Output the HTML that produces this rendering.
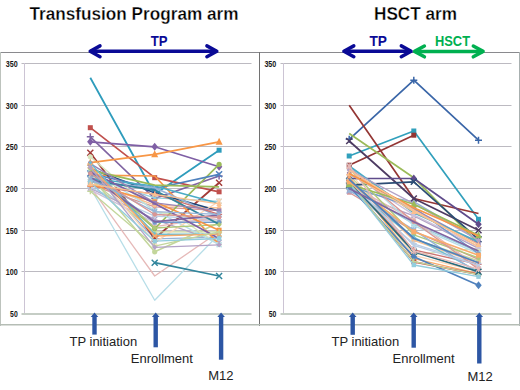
<!DOCTYPE html>
<html><head><meta charset="utf-8"><style>
html,body{margin:0;padding:0;background:#fff;width:520px;height:390px;overflow:hidden}
svg{display:block}
text{font-family:"Liberation Sans",sans-serif}
</style></head><body>
<svg width="520" height="390" viewBox="0 0 520 390" font-family="Liberation Sans, sans-serif">
<rect width="520" height="390" fill="#fff"/>
<line x1="0" y1="52.5" x2="520" y2="52.5" stroke="#8A8A8E" stroke-width="1"/>
<line x1="0.5" y1="52" x2="0.5" y2="326" stroke="#BDC3BD" stroke-width="1"/>
<line x1="519.5" y1="52" x2="519.5" y2="326" stroke="#A8B0B0" stroke-width="1"/>
<line x1="259.5" y1="52" x2="259.5" y2="326" stroke="#727272" stroke-width="1"/>
<line x1="0" y1="324.8" x2="520" y2="324.8" stroke="#B5BDB5" stroke-width="1.6"/>
<line x1="21.5" y1="271.5" x2="251.5" y2="271.5" stroke="#BCBAC1" stroke-width="1"/>
<line x1="21.5" y1="230.5" x2="251.5" y2="230.5" stroke="#BCBAC1" stroke-width="1"/>
<line x1="21.5" y1="188.5" x2="251.5" y2="188.5" stroke="#BCBAC1" stroke-width="1"/>
<line x1="21.5" y1="146.5" x2="251.5" y2="146.5" stroke="#BCBAC1" stroke-width="1"/>
<line x1="21.5" y1="105.5" x2="251.5" y2="105.5" stroke="#BCBAC1" stroke-width="1"/>
<line x1="21.5" y1="63.5" x2="251.5" y2="63.5" stroke="#BCBAC1" stroke-width="1"/>
<line x1="24.5" y1="63" x2="24.5" y2="313.5" stroke="#CCC4D4" stroke-width="1"/>
<line x1="21.5" y1="314" x2="251.5" y2="314" stroke="#C5CDC5" stroke-width="2"/>
<text x="17.7" y="316.9" font-size="9.6" font-weight="bold" fill="#151515" text-anchor="end" textLength="7.6" lengthAdjust="spacingAndGlyphs">50</text>
<text x="17.7" y="274.9" font-size="9.6" font-weight="bold" fill="#151515" text-anchor="end" textLength="11.9" lengthAdjust="spacingAndGlyphs">100</text>
<text x="17.7" y="233.9" font-size="9.6" font-weight="bold" fill="#151515" text-anchor="end" textLength="11.9" lengthAdjust="spacingAndGlyphs">150</text>
<text x="17.7" y="191.9" font-size="9.6" font-weight="bold" fill="#151515" text-anchor="end" textLength="11.9" lengthAdjust="spacingAndGlyphs">200</text>
<text x="17.7" y="149.9" font-size="9.6" font-weight="bold" fill="#151515" text-anchor="end" textLength="11.9" lengthAdjust="spacingAndGlyphs">250</text>
<text x="17.7" y="108.9" font-size="9.6" font-weight="bold" fill="#151515" text-anchor="end" textLength="11.9" lengthAdjust="spacingAndGlyphs">300</text>
<text x="17.7" y="66.9" font-size="9.6" font-weight="bold" fill="#151515" text-anchor="end" textLength="11.9" lengthAdjust="spacingAndGlyphs">350</text>
<line x1="280.5" y1="271.5" x2="511.5" y2="271.5" stroke="#BCBAC1" stroke-width="1"/>
<line x1="280.5" y1="230.5" x2="511.5" y2="230.5" stroke="#BCBAC1" stroke-width="1"/>
<line x1="280.5" y1="188.5" x2="511.5" y2="188.5" stroke="#BCBAC1" stroke-width="1"/>
<line x1="280.5" y1="146.5" x2="511.5" y2="146.5" stroke="#BCBAC1" stroke-width="1"/>
<line x1="280.5" y1="105.5" x2="511.5" y2="105.5" stroke="#BCBAC1" stroke-width="1"/>
<line x1="280.5" y1="63.5" x2="511.5" y2="63.5" stroke="#BCBAC1" stroke-width="1"/>
<line x1="283.5" y1="63" x2="283.5" y2="313.5" stroke="#CCC4D4" stroke-width="1"/>
<line x1="280.5" y1="314" x2="511.5" y2="314" stroke="#C5CDC5" stroke-width="2"/>
<text x="276.3" y="316.9" font-size="9.6" font-weight="bold" fill="#151515" text-anchor="end" textLength="7.6" lengthAdjust="spacingAndGlyphs">50</text>
<text x="276.3" y="274.9" font-size="9.6" font-weight="bold" fill="#151515" text-anchor="end" textLength="11.9" lengthAdjust="spacingAndGlyphs">100</text>
<text x="276.3" y="233.9" font-size="9.6" font-weight="bold" fill="#151515" text-anchor="end" textLength="11.9" lengthAdjust="spacingAndGlyphs">150</text>
<text x="276.3" y="191.9" font-size="9.6" font-weight="bold" fill="#151515" text-anchor="end" textLength="11.9" lengthAdjust="spacingAndGlyphs">200</text>
<text x="276.3" y="149.9" font-size="9.6" font-weight="bold" fill="#151515" text-anchor="end" textLength="11.9" lengthAdjust="spacingAndGlyphs">250</text>
<text x="276.3" y="108.9" font-size="9.6" font-weight="bold" fill="#151515" text-anchor="end" textLength="11.9" lengthAdjust="spacingAndGlyphs">300</text>
<text x="276.3" y="66.9" font-size="9.6" font-weight="bold" fill="#151515" text-anchor="end" textLength="11.9" lengthAdjust="spacingAndGlyphs">350</text>
<g><polyline points="90.3,77.7 154.7,194.3 219.1,150.2" fill="none" stroke="#2E9CBC" stroke-width="1.8" stroke-linejoin="round"/>
<rect x="216.6" y="147.7" width="5" height="5" fill="#2E9CBC"/>
<polyline points="90.3,187.7 154.7,300.2 219.1,234.3" fill="none" stroke="#B7DEE8" stroke-width="1.3" stroke-linejoin="round"/>
<polyline points="90.3,127.7 154.7,177.7 219.1,191.8" fill="none" stroke="#C0504D" stroke-width="1.7" stroke-linejoin="round"/>
<rect x="87.8" y="125.2" width="5" height="5" fill="#C0504D"/>
<rect x="152.2" y="175.2" width="5" height="5" fill="#C0504D"/>
<rect x="216.6" y="189.3" width="5" height="5" fill="#C0504D"/>
<polyline points="90.3,186.8 154.7,276.0 219.1,231.8" fill="none" stroke="#E6B9B8" stroke-width="1.3" stroke-linejoin="round"/>
<polyline points="90.3,136.8 154.7,198.5 219.1,176.0" fill="none" stroke="#8064A2" stroke-width="1.7" stroke-linejoin="round"/>
<path d="M86.8,136.8L93.8,136.8M90.3,133.3L90.3,140.3" stroke="#8064A2" stroke-width="1.5"/>
<path d="M151.2,198.5L158.2,198.5M154.7,195.0L154.7,202.0" stroke="#8064A2" stroke-width="1.5"/>
<path d="M215.6,176.0L222.6,176.0M219.1,172.5L219.1,179.5" stroke="#8064A2" stroke-width="1.5"/>
<polyline points="90.3,170.6 154.7,238.8 219.1,237.2" fill="none" stroke="#95B3D7" stroke-width="1.35" stroke-linejoin="round"/>
<path d="M90.3,167.8L92.9,170.6L90.3,173.4L87.7,170.6Z" fill="#95B3D7"/>
<path d="M154.7,236.0L157.3,238.8L154.7,241.6L152.1,238.8Z" fill="#95B3D7"/>
<path d="M219.1,234.4L221.7,237.2L219.1,240.0L216.5,237.2Z" fill="#95B3D7"/>
<polyline points="90.3,141.8 154.7,146.8 219.1,166.8" fill="none" stroke="#7F5FA5" stroke-width="1.7" stroke-linejoin="round"/>
<path d="M90.3,137.8L93.5,141.8L90.3,145.8L87.1,141.8Z" fill="#7F5FA5"/>
<path d="M154.7,142.8L157.9,146.8L154.7,150.8L151.5,146.8Z" fill="#7F5FA5"/>
<path d="M219.1,162.8L222.3,166.8L219.1,170.8L215.9,166.8Z" fill="#7F5FA5"/>
<polyline points="90.3,184.8 154.7,206.8 219.1,210.6" fill="none" stroke="#D99694" stroke-width="1.35" stroke-linejoin="round"/>
<rect x="88.1" y="182.6" width="4.4" height="4.4" fill="#D99694"/>
<rect x="152.5" y="204.6" width="4.4" height="4.4" fill="#D99694"/>
<rect x="216.9" y="208.4" width="4.4" height="4.4" fill="#D99694"/>
<polyline points="90.3,152.7 154.7,238.5 219.1,182.7" fill="none" stroke="#A33B38" stroke-width="1.8" stroke-linejoin="round"/>
<path d="M87.3,149.7L93.3,155.7M93.3,149.7L87.3,155.7" stroke="#A33B38" stroke-width="1.5"/>
<path d="M151.7,235.5L157.7,241.5M157.7,235.5L151.7,241.5" stroke="#A33B38" stroke-width="1.5"/>
<path d="M216.1,179.7L222.1,185.7M222.1,179.7L216.1,185.7" stroke="#A33B38" stroke-width="1.5"/>
<polyline points="90.3,179.6 154.7,231.9 219.1,231.9" fill="none" stroke="#C3D69B" stroke-width="1.35" stroke-linejoin="round"/>
<path d="M90.3,176.6L93.1,181.8L87.5,181.8Z" fill="#C3D69B"/>
<path d="M154.7,228.9L157.5,234.1L151.9,234.1Z" fill="#C3D69B"/>
<path d="M219.1,228.9L221.9,234.1L216.3,234.1Z" fill="#C3D69B"/>
<polyline points="90.3,156.8 154.7,211.8 219.1,221.8" fill="none" stroke="#D7E4BD" stroke-width="1.5" stroke-linejoin="round"/>
<circle cx="90.3" cy="156.8" r="2.6" fill="#D7E4BD"/>
<circle cx="154.7" cy="211.8" r="2.6" fill="#D7E4BD"/>
<circle cx="219.1" cy="221.8" r="2.6" fill="#D7E4BD"/>
<polyline points="90.3,188.2 154.7,219.3 219.1,242.3" fill="none" stroke="#B3A2C7" stroke-width="1.35" stroke-linejoin="round"/>
<path d="M87.8,185.7L92.8,190.7M92.8,185.7L87.8,190.7" stroke="#B3A2C7" stroke-width="1.3"/>
<path d="M152.2,216.8L157.2,221.8M157.2,216.8L152.2,221.8" stroke="#B3A2C7" stroke-width="1.3"/>
<path d="M216.6,239.8L221.6,244.8M221.6,239.8L216.6,244.8" stroke="#B3A2C7" stroke-width="1.3"/>
<polyline points="90.3,162.7 154.7,154.3 219.1,141.8" fill="none" stroke="#F79646" stroke-width="1.7" stroke-linejoin="round"/>
<path d="M90.3,158.7L93.8,165.7L86.8,165.7Z" fill="#F79646"/>
<path d="M154.7,150.3L158.2,157.3L151.2,157.3Z" fill="#F79646"/>
<path d="M219.1,137.8L222.6,144.8L215.6,144.8Z" fill="#F79646"/>
<polyline points="90.3,177.7 154.7,197.9 219.1,201.3" fill="none" stroke="#93CDDD" stroke-width="1.35" stroke-linejoin="round"/>
<path d="M87.8,175.2L92.8,180.2M92.8,175.2L87.8,180.2" stroke="#93CDDD" stroke-width="1.3"/>
<path d="M90.3,174.7L90.3,180.7" stroke="#93CDDD" stroke-width="1.2"/>
<path d="M152.2,195.4L157.2,200.4M157.2,195.4L152.2,200.4" stroke="#93CDDD" stroke-width="1.3"/>
<path d="M154.7,194.9L154.7,200.9" stroke="#93CDDD" stroke-width="1.2"/>
<path d="M216.6,198.8L221.6,203.8M221.6,198.8L216.6,203.8" stroke="#93CDDD" stroke-width="1.3"/>
<path d="M219.1,198.3L219.1,204.3" stroke="#93CDDD" stroke-width="1.2"/>
<polyline points="90.3,175.2 154.7,176.0 219.1,244.3" fill="none" stroke="#F79646" stroke-width="1.7" stroke-linejoin="round"/>
<polyline points="90.3,181.0 154.7,205.2 219.1,208.0" fill="none" stroke="#FAC090" stroke-width="1.35" stroke-linejoin="round"/>
<circle cx="90.3" cy="181.0" r="2.3" fill="#FAC090"/>
<circle cx="154.7" cy="205.2" r="2.3" fill="#FAC090"/>
<circle cx="219.1" cy="208.0" r="2.3" fill="#FAC090"/>
<polyline points="90.3,168.5 154.7,192.7 219.1,211.0" fill="none" stroke="#1F497D" stroke-width="1.7" stroke-linejoin="round"/>
<polyline points="90.3,187.5 154.7,216.1 219.1,219.6" fill="none" stroke="#B9CDE5" stroke-width="1.35" stroke-linejoin="round"/>
<path d="M87.3,187.5L93.3,187.5M90.3,184.5L90.3,190.5" stroke="#B9CDE5" stroke-width="1.3"/>
<path d="M151.7,216.1L157.7,216.1M154.7,213.1L154.7,219.1" stroke="#B9CDE5" stroke-width="1.3"/>
<path d="M216.1,219.6L222.1,219.6M219.1,216.6L219.1,222.6" stroke="#B9CDE5" stroke-width="1.3"/>
<polyline points="154.7,262.7 219.1,276.0" fill="none" stroke="#31859C" stroke-width="1.7" stroke-linejoin="round"/>
<path d="M151.7,259.7L157.7,265.7M157.7,259.7L151.7,265.7" stroke="#31859C" stroke-width="1.5"/>
<path d="M216.1,273.0L222.1,279.0M222.1,273.0L216.1,279.0" stroke="#31859C" stroke-width="1.5"/>
<polyline points="90.3,174.6 154.7,226.7 219.1,217.2" fill="none" stroke="#E6B9B8" stroke-width="1.35" stroke-linejoin="round"/>
<path d="M90.3,171.8L92.9,174.6L90.3,177.4L87.7,174.6Z" fill="#E6B9B8"/>
<path d="M154.7,223.9L157.3,226.7L154.7,229.5L152.1,226.7Z" fill="#E6B9B8"/>
<path d="M219.1,214.4L221.7,217.2L219.1,220.0L216.5,217.2Z" fill="#E6B9B8"/>
<polyline points="90.3,176.0 154.7,251.8 219.1,222.7" fill="none" stroke="#C3D69B" stroke-width="1.5" stroke-linejoin="round"/>
<circle cx="90.3" cy="176.0" r="2.6" fill="#C3D69B"/>
<circle cx="154.7" cy="251.8" r="2.6" fill="#C3D69B"/>
<circle cx="219.1" cy="222.7" r="2.6" fill="#C3D69B"/>
<polyline points="90.3,176.7 154.7,201.2 219.1,244.8" fill="none" stroke="#D7E4BD" stroke-width="1.35" stroke-linejoin="round"/>
<rect x="88.1" y="174.5" width="4.4" height="4.4" fill="#D7E4BD"/>
<rect x="152.5" y="199.0" width="4.4" height="4.4" fill="#D7E4BD"/>
<rect x="216.9" y="242.6" width="4.4" height="4.4" fill="#D7E4BD"/>
<polyline points="90.3,171.8 154.7,228.5 219.1,164.3" fill="none" stroke="#9BBB59" stroke-width="1.7" stroke-linejoin="round"/>
<circle cx="90.3" cy="171.8" r="2.6" fill="#9BBB59"/>
<circle cx="154.7" cy="228.5" r="2.6" fill="#9BBB59"/>
<circle cx="219.1" cy="164.3" r="2.6" fill="#9BBB59"/>
<polyline points="90.3,189.9 154.7,222.7 219.1,219.6" fill="none" stroke="#CCC1DA" stroke-width="1.35" stroke-linejoin="round"/>
<path d="M90.3,186.9L93.1,192.1L87.5,192.1Z" fill="#CCC1DA"/>
<path d="M154.7,219.7L157.5,224.9L151.9,224.9Z" fill="#CCC1DA"/>
<path d="M219.1,216.6L221.9,221.8L216.3,221.8Z" fill="#CCC1DA"/>
<polyline points="90.3,173.5 154.7,188.5 219.1,174.3" fill="none" stroke="#4F81BD" stroke-width="1.7" stroke-linejoin="round"/>
<path d="M87.3,170.5L93.3,176.5M93.3,170.5L87.3,176.5" stroke="#4F81BD" stroke-width="1.5"/>
<path d="M151.7,185.5L157.7,191.5M157.7,185.5L151.7,191.5" stroke="#4F81BD" stroke-width="1.5"/>
<path d="M216.1,171.3L222.1,177.3M222.1,171.3L216.1,177.3" stroke="#4F81BD" stroke-width="1.5"/>
<polyline points="90.3,169.4 154.7,210.3 219.1,244.7" fill="none" stroke="#B7DEE8" stroke-width="1.35" stroke-linejoin="round"/>
<path d="M87.8,166.9L92.8,171.9M92.8,166.9L87.8,171.9" stroke="#B7DEE8" stroke-width="1.3"/>
<path d="M152.2,207.8L157.2,212.8M157.2,207.8L152.2,212.8" stroke="#B7DEE8" stroke-width="1.3"/>
<path d="M216.6,242.2L221.6,247.2M221.6,242.2L216.6,247.2" stroke="#B7DEE8" stroke-width="1.3"/>
<polyline points="90.3,178.5 154.7,186.0 219.1,203.5" fill="none" stroke="#4BACC6" stroke-width="1.7" stroke-linejoin="round"/>
<polyline points="90.3,166.6 154.7,242.4 219.1,201.3" fill="none" stroke="#FCD5B5" stroke-width="1.35" stroke-linejoin="round"/>
<path d="M87.8,164.1L92.8,169.1M92.8,164.1L87.8,169.1" stroke="#FCD5B5" stroke-width="1.3"/>
<path d="M90.3,163.6L90.3,169.6" stroke="#FCD5B5" stroke-width="1.2"/>
<path d="M152.2,239.9L157.2,244.9M157.2,239.9L152.2,244.9" stroke="#FCD5B5" stroke-width="1.3"/>
<path d="M154.7,239.4L154.7,245.4" stroke="#FCD5B5" stroke-width="1.2"/>
<path d="M216.6,198.8L221.6,203.8M221.6,198.8L216.6,203.8" stroke="#FCD5B5" stroke-width="1.3"/>
<path d="M219.1,198.3L219.1,204.3" stroke="#FCD5B5" stroke-width="1.2"/>
<polyline points="90.3,170.2 154.7,185.2 219.1,186.8" fill="none" stroke="#9BBB59" stroke-width="1.7" stroke-linejoin="round"/>
<polyline points="90.3,173.0 154.7,222.4 219.1,222.2" fill="none" stroke="#729ACA" stroke-width="1.35" stroke-linejoin="round"/>
<circle cx="90.3" cy="173.0" r="2.3" fill="#729ACA"/>
<circle cx="154.7" cy="222.4" r="2.3" fill="#729ACA"/>
<circle cx="219.1" cy="222.2" r="2.3" fill="#729ACA"/>
<polyline points="90.3,181.8 154.7,187.7 219.1,216.8" fill="none" stroke="#95B3D7" stroke-width="1.8" stroke-linejoin="round"/>
<polyline points="90.3,186.2 154.7,193.9 219.1,214.3" fill="none" stroke="#CD7371" stroke-width="1.35" stroke-linejoin="round"/>
<path d="M87.3,186.2L93.3,186.2M90.3,183.2L90.3,189.2" stroke="#CD7371" stroke-width="1.3"/>
<path d="M151.7,193.9L157.7,193.9M154.7,190.9L154.7,196.9" stroke="#CD7371" stroke-width="1.3"/>
<path d="M216.1,214.3L222.1,214.3M219.1,211.3L219.1,217.3" stroke="#CD7371" stroke-width="1.3"/>
<polyline points="90.3,180.2 154.7,190.2 219.1,224.3" fill="none" stroke="#31859C" stroke-width="1.8" stroke-linejoin="round"/>
<polyline points="90.3,168.5 154.7,228.0 219.1,224.7" fill="none" stroke="#AFC97A" stroke-width="1.35" stroke-linejoin="round"/>
<path d="M90.3,165.7L92.9,168.5L90.3,171.3L87.7,168.5Z" fill="#AFC97A"/>
<path d="M154.7,225.2L157.3,228.0L154.7,230.8L152.1,228.0Z" fill="#AFC97A"/>
<path d="M219.1,221.9L221.7,224.7L219.1,227.5L216.5,224.7Z" fill="#AFC97A"/>
<polyline points="90.3,184.3 154.7,201.8 219.1,230.2" fill="none" stroke="#F79646" stroke-width="1.7" stroke-linejoin="round"/>
<rect x="87.8" y="181.8" width="5" height="5" fill="#F79646"/>
<rect x="152.2" y="199.3" width="5" height="5" fill="#F79646"/>
<rect x="216.6" y="227.7" width="5" height="5" fill="#F79646"/>
<polyline points="90.3,163.7 154.7,202.9 219.1,210.6" fill="none" stroke="#9983B5" stroke-width="1.35" stroke-linejoin="round"/>
<rect x="88.1" y="161.5" width="4.4" height="4.4" fill="#9983B5"/>
<rect x="152.5" y="200.7" width="4.4" height="4.4" fill="#9983B5"/>
<rect x="216.9" y="208.4" width="4.4" height="4.4" fill="#9983B5"/>
<polyline points="90.3,171.8 154.7,203.5 219.1,238.5" fill="none" stroke="#7F5FA5" stroke-width="1.7" stroke-linejoin="round"/>
<polyline points="90.3,163.0 154.7,234.2 219.1,234.2" fill="none" stroke="#6FBDD1" stroke-width="1.35" stroke-linejoin="round"/>
<path d="M90.3,160.0L93.1,165.2L87.5,165.2Z" fill="#6FBDD1"/>
<path d="M154.7,231.2L157.5,236.4L151.9,236.4Z" fill="#6FBDD1"/>
<path d="M219.1,231.2L221.9,236.4L216.3,236.4Z" fill="#6FBDD1"/>
<polyline points="90.3,176.8 154.7,221.8 219.1,215.2" fill="none" stroke="#8064A2" stroke-width="1.7" stroke-linejoin="round"/>
<polyline points="90.3,165.6 154.7,236.0 219.1,234.2" fill="none" stroke="#F9AB6B" stroke-width="1.35" stroke-linejoin="round"/>
<path d="M87.8,163.1L92.8,168.1M92.8,163.1L87.8,168.1" stroke="#F9AB6B" stroke-width="1.3"/>
<path d="M152.2,233.5L157.2,238.5M157.2,233.5L152.2,238.5" stroke="#F9AB6B" stroke-width="1.3"/>
<path d="M216.6,231.7L221.6,236.7M221.6,231.7L216.6,236.7" stroke="#F9AB6B" stroke-width="1.3"/>
<polyline points="90.3,179.2 154.7,211.7 219.1,214.3" fill="none" stroke="#95B3D7" stroke-width="1.35" stroke-linejoin="round"/>
<path d="M87.8,176.7L92.8,181.7M92.8,176.7L87.8,181.7" stroke="#95B3D7" stroke-width="1.3"/>
<path d="M90.3,176.2L90.3,182.2" stroke="#95B3D7" stroke-width="1.2"/>
<path d="M152.2,209.2L157.2,214.2M157.2,209.2L152.2,214.2" stroke="#95B3D7" stroke-width="1.3"/>
<path d="M154.7,208.7L154.7,214.7" stroke="#95B3D7" stroke-width="1.2"/>
<path d="M216.6,211.8L221.6,216.8M221.6,211.8L216.6,216.8" stroke="#95B3D7" stroke-width="1.3"/>
<path d="M219.1,211.3L219.1,217.3" stroke="#95B3D7" stroke-width="1.2"/>
<polyline points="90.3,173.5 154.7,214.5 219.1,217.2" fill="none" stroke="#D99694" stroke-width="1.35" stroke-linejoin="round"/>
<circle cx="90.3" cy="173.5" r="2.3" fill="#D99694"/>
<circle cx="154.7" cy="214.5" r="2.3" fill="#D99694"/>
<circle cx="219.1" cy="217.2" r="2.3" fill="#D99694"/>
<polyline points="90.3,191.3 154.7,246.1 219.1,231.9" fill="none" stroke="#C3D69B" stroke-width="1.35" stroke-linejoin="round"/>
<path d="M87.3,191.3L93.3,191.3M90.3,188.3L90.3,194.3" stroke="#C3D69B" stroke-width="1.3"/>
<path d="M151.7,246.1L157.7,246.1M154.7,243.1L154.7,249.1" stroke="#C3D69B" stroke-width="1.3"/>
<path d="M216.1,231.9L222.1,231.9M219.1,228.9L219.1,234.9" stroke="#C3D69B" stroke-width="1.3"/>
<polyline points="90.3,167.3 154.7,247.3 219.1,244.8" fill="none" stroke="#B3A2C7" stroke-width="1.35" stroke-linejoin="round"/>
<path d="M90.3,164.5L92.9,167.3L90.3,170.1L87.7,167.3Z" fill="#B3A2C7"/>
<path d="M154.7,244.5L157.3,247.3L154.7,250.1L152.1,247.3Z" fill="#B3A2C7"/>
<path d="M219.1,242.0L221.7,244.8L219.1,247.6L216.5,244.8Z" fill="#B3A2C7"/>
<polyline points="90.3,182.4 154.7,241.2 219.1,238.5" fill="none" stroke="#93CDDD" stroke-width="1.35" stroke-linejoin="round"/>
<rect x="88.1" y="180.2" width="4.4" height="4.4" fill="#93CDDD"/>
<rect x="152.5" y="239.0" width="4.4" height="4.4" fill="#93CDDD"/>
<rect x="216.9" y="236.3" width="4.4" height="4.4" fill="#93CDDD"/>
<polyline points="90.3,184.1 154.7,194.4 219.1,203.9" fill="none" stroke="#FAC090" stroke-width="1.35" stroke-linejoin="round"/>
<path d="M90.3,181.1L93.1,186.3L87.5,186.3Z" fill="#FAC090"/>
<path d="M154.7,191.4L157.5,196.6L151.9,196.6Z" fill="#FAC090"/>
<path d="M219.1,200.9L221.9,206.1L216.3,206.1Z" fill="#FAC090"/></g>
<g><polyline points="349.2,139.3 413.8,80.2 478.5,140.2" fill="none" stroke="#3A66A8" stroke-width="1.7" stroke-linejoin="round"/>
<path d="M345.7,139.3L352.7,139.3M349.2,135.8L349.2,142.8" stroke="#3A66A8" stroke-width="1.5"/>
<path d="M410.3,80.2L417.3,80.2M413.8,76.7L413.8,83.7" stroke="#3A66A8" stroke-width="1.5"/>
<path d="M475.0,140.2L482.0,140.2M478.5,136.7L478.5,143.7" stroke="#3A66A8" stroke-width="1.5"/>
<polyline points="349.2,190.1 413.8,201.7 478.5,239.8" fill="none" stroke="#95B3D7" stroke-width="1.35" stroke-linejoin="round"/>
<path d="M349.2,187.3L351.8,190.1L349.2,192.9L346.6,190.1Z" fill="#95B3D7"/>
<path d="M413.8,198.9L416.4,201.7L413.8,204.5L411.2,201.7Z" fill="#95B3D7"/>
<path d="M478.5,237.0L481.1,239.8L478.5,242.6L475.9,239.8Z" fill="#95B3D7"/>
<polyline points="349.2,192.5 413.8,231.1 478.5,259.4" fill="none" stroke="#D99694" stroke-width="1.35" stroke-linejoin="round"/>
<rect x="347.0" y="190.3" width="4.4" height="4.4" fill="#D99694"/>
<rect x="411.6" y="228.9" width="4.4" height="4.4" fill="#D99694"/>
<rect x="476.3" y="257.2" width="4.4" height="4.4" fill="#D99694"/>
<polyline points="349.2,156.0 413.8,131.0 478.5,219.3" fill="none" stroke="#31A0BC" stroke-width="1.7" stroke-linejoin="round"/>
<rect x="346.7" y="153.5" width="5" height="5" fill="#31A0BC"/>
<rect x="411.3" y="128.5" width="5" height="5" fill="#31A0BC"/>
<rect x="476.0" y="216.8" width="5" height="5" fill="#31A0BC"/>
<polyline points="349.2,175.5 413.8,239.0 478.5,260.8" fill="none" stroke="#C3D69B" stroke-width="1.35" stroke-linejoin="round"/>
<path d="M349.2,172.5L352.0,177.7L346.4,177.7Z" fill="#C3D69B"/>
<path d="M413.8,236.0L416.6,241.2L411.0,241.2Z" fill="#C3D69B"/>
<path d="M478.5,257.8L481.3,263.0L475.7,263.0Z" fill="#C3D69B"/>
<polyline points="349.2,191.4 413.8,215.8 478.5,248.4" fill="none" stroke="#B3A2C7" stroke-width="1.35" stroke-linejoin="round"/>
<path d="M346.7,188.9L351.7,193.9M351.7,188.9L346.7,193.9" stroke="#B3A2C7" stroke-width="1.3"/>
<path d="M411.3,213.3L416.3,218.3M416.3,213.3L411.3,218.3" stroke="#B3A2C7" stroke-width="1.3"/>
<path d="M476.0,245.9L481.0,250.9M481.0,245.9L476.0,250.9" stroke="#B3A2C7" stroke-width="1.3"/>
<polyline points="349.2,165.2 413.8,135.2" fill="none" stroke="#943634" stroke-width="1.7" stroke-linejoin="round"/>
<rect x="346.7" y="162.7" width="5" height="5" fill="#943634"/>
<rect x="411.3" y="132.7" width="5" height="5" fill="#943634"/>
<polyline points="349.2,186.4 413.8,223.9 478.5,252.0" fill="none" stroke="#93CDDD" stroke-width="1.35" stroke-linejoin="round"/>
<path d="M346.7,183.9L351.7,188.9M351.7,183.9L346.7,188.9" stroke="#93CDDD" stroke-width="1.3"/>
<path d="M349.2,183.4L349.2,189.4" stroke="#93CDDD" stroke-width="1.2"/>
<path d="M411.3,221.4L416.3,226.4M416.3,221.4L411.3,226.4" stroke="#93CDDD" stroke-width="1.3"/>
<path d="M413.8,220.9L413.8,226.9" stroke="#93CDDD" stroke-width="1.2"/>
<path d="M476.0,249.5L481.0,254.5M481.0,249.5L476.0,254.5" stroke="#93CDDD" stroke-width="1.3"/>
<path d="M478.5,249.0L478.5,255.0" stroke="#93CDDD" stroke-width="1.2"/>
<polyline points="349.2,179.2 413.8,240.4 478.5,263.1" fill="none" stroke="#FAC090" stroke-width="1.35" stroke-linejoin="round"/>
<circle cx="349.2" cy="179.2" r="2.3" fill="#FAC090"/>
<circle cx="413.8" cy="240.4" r="2.3" fill="#FAC090"/>
<circle cx="478.5" cy="263.1" r="2.3" fill="#FAC090"/>
<polyline points="349.2,105.2 413.8,198.5 478.5,213.5" fill="none" stroke="#943634" stroke-width="1.7" stroke-linejoin="round"/>
<polyline points="349.2,188.5 413.8,243.8 478.5,264.4" fill="none" stroke="#B9CDE5" stroke-width="1.35" stroke-linejoin="round"/>
<path d="M346.2,188.5L352.2,188.5M349.2,185.5L349.2,191.5" stroke="#B9CDE5" stroke-width="1.3"/>
<path d="M410.8,243.8L416.8,243.8M413.8,240.8L413.8,246.8" stroke="#B9CDE5" stroke-width="1.3"/>
<path d="M475.5,264.4L481.5,264.4M478.5,261.4L478.5,267.4" stroke="#B9CDE5" stroke-width="1.3"/>
<polyline points="349.2,184.6 413.8,219.8 478.5,267.4" fill="none" stroke="#E6B9B8" stroke-width="1.35" stroke-linejoin="round"/>
<path d="M349.2,181.8L351.8,184.6L349.2,187.4L346.6,184.6Z" fill="#E6B9B8"/>
<path d="M413.8,217.0L416.4,219.8L413.8,222.6L411.2,219.8Z" fill="#E6B9B8"/>
<path d="M478.5,264.6L481.1,267.4L478.5,270.2L475.9,267.4Z" fill="#E6B9B8"/>
<polyline points="349.2,133.5 413.8,177.7 478.5,243.5" fill="none" stroke="#9BBB59" stroke-width="1.7" stroke-linejoin="round"/>
<polyline points="349.2,177.5 413.8,254.5 478.5,248.4" fill="none" stroke="#D7E4BD" stroke-width="1.35" stroke-linejoin="round"/>
<rect x="347.0" y="175.3" width="4.4" height="4.4" fill="#D7E4BD"/>
<rect x="411.6" y="252.3" width="4.4" height="4.4" fill="#D7E4BD"/>
<rect x="476.3" y="246.2" width="4.4" height="4.4" fill="#D7E4BD"/>
<polyline points="349.2,172.7 413.8,214.9 478.5,246.7" fill="none" stroke="#CCC1DA" stroke-width="1.35" stroke-linejoin="round"/>
<path d="M349.2,169.7L352.0,174.9L346.4,174.9Z" fill="#CCC1DA"/>
<path d="M413.8,211.9L416.6,217.1L411.0,217.1Z" fill="#CCC1DA"/>
<path d="M478.5,243.7L481.3,248.9L475.7,248.9Z" fill="#CCC1DA"/>
<polyline points="349.2,141.0 413.8,198.5 478.5,230.2" fill="none" stroke="#4D3B62" stroke-width="1.7" stroke-linejoin="round"/>
<path d="M346.2,138.0L352.2,144.0M352.2,138.0L346.2,144.0" stroke="#4D3B62" stroke-width="1.5"/>
<path d="M410.8,195.5L416.8,201.5M416.8,195.5L410.8,201.5" stroke="#4D3B62" stroke-width="1.5"/>
<path d="M475.5,227.2L481.5,233.2M481.5,227.2L475.5,233.2" stroke="#4D3B62" stroke-width="1.5"/>
<polyline points="349.2,165.9 413.8,225.7 478.5,253.7" fill="none" stroke="#B7DEE8" stroke-width="1.35" stroke-linejoin="round"/>
<path d="M346.7,163.4L351.7,168.4M351.7,163.4L346.7,168.4" stroke="#B7DEE8" stroke-width="1.3"/>
<path d="M411.3,223.2L416.3,228.2M416.3,223.2L411.3,228.2" stroke="#B7DEE8" stroke-width="1.3"/>
<path d="M476.0,251.2L481.0,256.2M481.0,251.2L476.0,256.2" stroke="#B7DEE8" stroke-width="1.3"/>
<polyline points="349.2,170.9 413.8,255.3 478.5,271.6" fill="none" stroke="#FCD5B5" stroke-width="1.35" stroke-linejoin="round"/>
<path d="M346.7,168.4L351.7,173.4M351.7,168.4L346.7,173.4" stroke="#FCD5B5" stroke-width="1.3"/>
<path d="M349.2,167.9L349.2,173.9" stroke="#FCD5B5" stroke-width="1.2"/>
<path d="M411.3,252.8L416.3,257.8M416.3,252.8L411.3,257.8" stroke="#FCD5B5" stroke-width="1.3"/>
<path d="M413.8,252.3L413.8,258.3" stroke="#FCD5B5" stroke-width="1.2"/>
<path d="M476.0,269.1L481.0,274.1M481.0,269.1L476.0,274.1" stroke="#FCD5B5" stroke-width="1.3"/>
<path d="M478.5,268.6L478.5,274.6" stroke="#FCD5B5" stroke-width="1.2"/>
<polyline points="349.2,178.5 413.8,178.5 478.5,224.3" fill="none" stroke="#5F4B8B" stroke-width="1.7" stroke-linejoin="round"/>
<path d="M349.2,174.5L352.4,178.5L349.2,182.5L346.0,178.5Z" fill="#5F4B8B"/>
<path d="M413.8,174.5L417.0,178.5L413.8,182.5L410.6,178.5Z" fill="#5F4B8B"/>
<path d="M478.5,220.3L481.7,224.3L478.5,228.3L475.3,224.3Z" fill="#5F4B8B"/>
<polyline points="349.2,185.7 413.8,207.6 478.5,253.7" fill="none" stroke="#729ACA" stroke-width="1.35" stroke-linejoin="round"/>
<circle cx="349.2" cy="185.7" r="2.3" fill="#729ACA"/>
<circle cx="413.8" cy="207.6" r="2.3" fill="#729ACA"/>
<circle cx="478.5" cy="253.7" r="2.3" fill="#729ACA"/>
<polyline points="349.2,180.4 413.8,249.9 478.5,264.4" fill="none" stroke="#CD7371" stroke-width="1.35" stroke-linejoin="round"/>
<path d="M346.2,180.4L352.2,180.4M349.2,177.4L349.2,183.4" stroke="#CD7371" stroke-width="1.3"/>
<path d="M410.8,249.9L416.8,249.9M413.8,246.9L413.8,252.9" stroke="#CD7371" stroke-width="1.3"/>
<path d="M475.5,264.4L481.5,264.4M478.5,261.4L478.5,267.4" stroke="#CD7371" stroke-width="1.3"/>
<polyline points="349.2,185.2 413.8,181.8 478.5,239.3" fill="none" stroke="#2C4D75" stroke-width="1.7" stroke-linejoin="round"/>
<path d="M346.2,182.2L352.2,188.2M352.2,182.2L346.2,188.2" stroke="#2C4D75" stroke-width="1.5"/>
<path d="M410.8,178.8L416.8,184.8M416.8,178.8L410.8,184.8" stroke="#2C4D75" stroke-width="1.5"/>
<path d="M475.5,236.3L481.5,242.3M481.5,236.3L475.5,242.3" stroke="#2C4D75" stroke-width="1.5"/>
<polyline points="349.2,168.8 413.8,234.8 478.5,257.8" fill="none" stroke="#AFC97A" stroke-width="1.35" stroke-linejoin="round"/>
<path d="M349.2,166.0L351.8,168.8L349.2,171.6L346.6,168.8Z" fill="#AFC97A"/>
<path d="M413.8,232.0L416.4,234.8L413.8,237.6L411.2,234.8Z" fill="#AFC97A"/>
<path d="M478.5,255.0L481.1,257.8L478.5,260.6L475.9,257.8Z" fill="#AFC97A"/>
<polyline points="349.2,174.2 413.8,209.0 478.5,243.6" fill="none" stroke="#9983B5" stroke-width="1.35" stroke-linejoin="round"/>
<rect x="347.0" y="172.0" width="4.4" height="4.4" fill="#9983B5"/>
<rect x="411.6" y="206.8" width="4.4" height="4.4" fill="#9983B5"/>
<rect x="476.3" y="241.4" width="4.4" height="4.4" fill="#9983B5"/>
<polyline points="349.2,166.0 413.8,212.7 478.5,241.8" fill="none" stroke="#4BACC6" stroke-width="1.7" stroke-linejoin="round"/>
<polyline points="349.2,187.6 413.8,237.1 478.5,271.6" fill="none" stroke="#6FBDD1" stroke-width="1.35" stroke-linejoin="round"/>
<path d="M349.2,184.6L352.0,189.8L346.4,189.8Z" fill="#6FBDD1"/>
<path d="M413.8,234.1L416.6,239.3L411.0,239.3Z" fill="#6FBDD1"/>
<path d="M478.5,268.6L481.3,273.8L475.7,273.8Z" fill="#6FBDD1"/>
<polyline points="349.2,176.7 413.8,258.7 478.5,273.6" fill="none" stroke="#F9AB6B" stroke-width="1.35" stroke-linejoin="round"/>
<path d="M346.7,174.2L351.7,179.2M351.7,174.2L346.7,179.2" stroke="#F9AB6B" stroke-width="1.3"/>
<path d="M411.3,256.2L416.3,261.2M416.3,256.2L411.3,261.2" stroke="#F9AB6B" stroke-width="1.3"/>
<path d="M476.0,271.1L481.0,276.1M481.0,271.1L476.0,276.1" stroke="#F9AB6B" stroke-width="1.3"/>
<polyline points="349.2,182.7 413.8,261.8 478.5,274.3" fill="none" stroke="#C0504D" stroke-width="1.7" stroke-linejoin="round"/>
<rect x="346.7" y="180.2" width="5" height="5" fill="#C0504D"/>
<rect x="411.3" y="259.3" width="5" height="5" fill="#C0504D"/>
<rect x="476.0" y="271.8" width="5" height="5" fill="#C0504D"/>
<polyline points="349.2,190.3 413.8,229.9 478.5,273.6" fill="none" stroke="#95B3D7" stroke-width="1.35" stroke-linejoin="round"/>
<path d="M346.7,187.8L351.7,192.8M351.7,187.8L346.7,192.8" stroke="#95B3D7" stroke-width="1.3"/>
<path d="M349.2,187.3L349.2,193.3" stroke="#95B3D7" stroke-width="1.2"/>
<path d="M411.3,227.4L416.3,232.4M416.3,227.4L411.3,232.4" stroke="#95B3D7" stroke-width="1.3"/>
<path d="M413.8,226.9L413.8,232.9" stroke="#95B3D7" stroke-width="1.2"/>
<path d="M476.0,271.1L481.0,276.1M481.0,271.1L476.0,276.1" stroke="#95B3D7" stroke-width="1.3"/>
<path d="M478.5,270.6L478.5,276.6" stroke="#95B3D7" stroke-width="1.2"/>
<polyline points="349.2,167.8 413.8,221.8 478.5,269.1" fill="none" stroke="#D99694" stroke-width="1.35" stroke-linejoin="round"/>
<circle cx="349.2" cy="167.8" r="2.3" fill="#D99694"/>
<circle cx="413.8" cy="221.8" r="2.3" fill="#D99694"/>
<circle cx="478.5" cy="269.1" r="2.3" fill="#D99694"/>
<polyline points="349.2,186.0 413.8,256.8 478.5,285.2" fill="none" stroke="#4F81BD" stroke-width="1.7" stroke-linejoin="round"/>
<path d="M349.2,182.0L352.4,186.0L349.2,190.0L346.0,186.0Z" fill="#4F81BD"/>
<path d="M413.8,252.8L417.0,256.8L413.8,260.8L410.6,256.8Z" fill="#4F81BD"/>
<path d="M478.5,281.2L481.7,285.2L478.5,289.2L475.3,285.2Z" fill="#4F81BD"/>
<polyline points="349.2,182.4 413.8,261.6 478.5,274.6" fill="none" stroke="#C3D69B" stroke-width="1.35" stroke-linejoin="round"/>
<path d="M346.2,182.4L352.2,182.4M349.2,179.4L349.2,185.4" stroke="#C3D69B" stroke-width="1.3"/>
<path d="M410.8,261.6L416.8,261.6M413.8,258.6L413.8,264.6" stroke="#C3D69B" stroke-width="1.3"/>
<path d="M475.5,274.6L481.5,274.6M478.5,271.6L478.5,277.6" stroke="#C3D69B" stroke-width="1.3"/>
<polyline points="349.2,170.0 413.8,203.6 478.5,240.2" fill="none" stroke="#B3A2C7" stroke-width="1.35" stroke-linejoin="round"/>
<path d="M349.2,167.2L351.8,170.0L349.2,172.8L346.6,170.0Z" fill="#B3A2C7"/>
<path d="M413.8,200.8L416.4,203.6L413.8,206.4L411.2,203.6Z" fill="#B3A2C7"/>
<path d="M478.5,237.4L481.1,240.2L478.5,243.0L475.9,240.2Z" fill="#B3A2C7"/>
<polyline points="349.2,181.0 413.8,251.8 478.5,271.8" fill="none" stroke="#276A7C" stroke-width="1.7" stroke-linejoin="round"/>
<path d="M346.2,178.0L352.2,184.0M352.2,178.0L346.2,184.0" stroke="#276A7C" stroke-width="1.5"/>
<path d="M410.8,248.8L416.8,254.8M416.8,248.8L410.8,254.8" stroke="#276A7C" stroke-width="1.5"/>
<path d="M475.5,268.8L481.5,274.8M481.5,268.8L475.5,274.8" stroke="#276A7C" stroke-width="1.5"/>
<polyline points="349.2,183.2 413.8,265.0 478.5,276.7" fill="none" stroke="#93CDDD" stroke-width="1.35" stroke-linejoin="round"/>
<rect x="347.0" y="181.0" width="4.4" height="4.4" fill="#93CDDD"/>
<rect x="411.6" y="262.8" width="4.4" height="4.4" fill="#93CDDD"/>
<rect x="476.3" y="274.5" width="4.4" height="4.4" fill="#93CDDD"/>
<polyline points="349.2,173.5 413.8,211.7 478.5,244.7" fill="none" stroke="#FAC090" stroke-width="1.35" stroke-linejoin="round"/>
<path d="M349.2,170.5L352.0,175.7L346.4,175.7Z" fill="#FAC090"/>
<path d="M413.8,208.7L416.6,213.9L411.0,213.9Z" fill="#FAC090"/>
<path d="M478.5,241.7L481.3,246.9L475.7,246.9Z" fill="#FAC090"/>
<polyline points="349.2,184.3 413.8,204.3 478.5,235.2" fill="none" stroke="#9BBB59" stroke-width="1.7" stroke-linejoin="round"/>
<path d="M349.2,180.3L352.7,187.3L345.7,187.3Z" fill="#9BBB59"/>
<path d="M413.8,200.3L417.3,207.3L410.3,207.3Z" fill="#9BBB59"/>
<path d="M478.5,231.2L482.0,238.2L475.0,238.2Z" fill="#9BBB59"/>
<polyline points="349.2,181.0 413.8,245.4 478.5,265.2" fill="none" stroke="#B9CDE5" stroke-width="1.35" stroke-linejoin="round"/>
<path d="M346.7,178.5L351.7,183.5M351.7,178.5L346.7,183.5" stroke="#B9CDE5" stroke-width="1.3"/>
<path d="M411.3,242.9L416.3,247.9M416.3,242.9L411.3,247.9" stroke="#B9CDE5" stroke-width="1.3"/>
<path d="M476.0,262.7L481.0,267.7M481.0,262.7L476.0,267.7" stroke="#B9CDE5" stroke-width="1.3"/>
<polyline points="349.2,166.3 413.8,251.2 478.5,269.1" fill="none" stroke="#E6B9B8" stroke-width="1.35" stroke-linejoin="round"/>
<path d="M346.7,163.8L351.7,168.8M351.7,163.8L346.7,168.8" stroke="#E6B9B8" stroke-width="1.3"/>
<path d="M349.2,163.3L349.2,169.3" stroke="#E6B9B8" stroke-width="1.2"/>
<path d="M411.3,248.7L416.3,253.7M416.3,248.7L411.3,253.7" stroke="#E6B9B8" stroke-width="1.3"/>
<path d="M413.8,248.2L413.8,254.2" stroke="#E6B9B8" stroke-width="1.2"/>
<path d="M476.0,266.6L481.0,271.6M481.0,266.6L476.0,271.6" stroke="#E6B9B8" stroke-width="1.3"/>
<path d="M478.5,266.1L478.5,272.1" stroke="#E6B9B8" stroke-width="1.2"/>
<polyline points="349.2,173.5 413.8,207.7 478.5,236.0" fill="none" stroke="#F79646" stroke-width="1.7" stroke-linejoin="round"/>
<polyline points="349.2,181.8 413.8,231.8 478.5,255.2" fill="none" stroke="#F9AB6B" stroke-width="1.5" stroke-linejoin="round"/>
<rect x="346.7" y="179.3" width="5" height="5" fill="#F9AB6B"/>
<rect x="411.3" y="229.3" width="5" height="5" fill="#F9AB6B"/>
<rect x="476.0" y="252.7" width="5" height="5" fill="#F9AB6B"/>
<polyline points="349.2,170.2 413.8,210.2 478.5,246.8" fill="none" stroke="#FAC090" stroke-width="1.5" stroke-linejoin="round"/>
<polyline points="349.2,188.5 413.8,221.8 478.5,251.0" fill="none" stroke="#8064A2" stroke-width="1.7" stroke-linejoin="round"/>
<polyline points="349.2,179.3 413.8,238.5 478.5,262.7" fill="none" stroke="#4F81BD" stroke-width="1.7" stroke-linejoin="round"/></g>
<text x="29.5" y="19.8" font-size="18" font-weight="bold" fill="#000" stroke="#fff" stroke-width="0.3" textLength="209" lengthAdjust="spacingAndGlyphs">Transfusion Program arm</text>
<text x="374" y="19.8" font-size="18" font-weight="bold" fill="#000" stroke="#fff" stroke-width="0.3" textLength="83" lengthAdjust="spacingAndGlyphs">HSCT arm</text>
<line x1="90.5" y1="51.3" x2="216.5" y2="51.3" stroke="#0A0A96" stroke-width="3.5"/>
<path d="M100.0,45.9 L90.2,51.3 L100.0,56.7" fill="none" stroke="#0A0A96" stroke-width="3.5" stroke-linecap="round" stroke-linejoin="round"/>
<path d="M206.9,45.9 L216.8,51.3 L206.9,56.7" fill="none" stroke="#0A0A96" stroke-width="3.5" stroke-linecap="round" stroke-linejoin="round"/>
<text x="150.8" y="45.8" font-size="15.5" font-weight="bold" fill="#0A0A96" textLength="16.8" lengthAdjust="spacingAndGlyphs">TP</text>
<line x1="344.2" y1="51.3" x2="410.9" y2="51.3" stroke="#0A0A96" stroke-width="3.5"/>
<path d="M353.8,45.9 L343.9,51.3 L353.8,56.7" fill="none" stroke="#0A0A96" stroke-width="3.5" stroke-linecap="round" stroke-linejoin="round"/>
<path d="M401.3,45.9 L411.1,51.3 L401.3,56.7" fill="none" stroke="#0A0A96" stroke-width="3.5" stroke-linecap="round" stroke-linejoin="round"/>
<text x="369.5" y="45.7" font-size="15.5" font-weight="bold" fill="#0A0A96" textLength="17.5" lengthAdjust="spacingAndGlyphs">TP</text>
<line x1="414.9" y1="51.4" x2="482.9" y2="51.4" stroke="#00B050" stroke-width="3.5"/>
<path d="M424.4,46.0 L414.6,51.4 L424.4,56.8" fill="none" stroke="#00B050" stroke-width="3.5" stroke-linecap="round" stroke-linejoin="round"/>
<path d="M473.3,46.0 L483.1,51.4 L473.3,56.8" fill="none" stroke="#00B050" stroke-width="3.5" stroke-linecap="round" stroke-linejoin="round"/>
<text x="435.0" y="45.5" font-size="15" font-weight="bold" fill="#00B050" textLength="35" lengthAdjust="spacingAndGlyphs">HSCT</text>
<rect x="92.3" y="316.1" width="4.4" height="18.5" fill="#2D56A4"/><path d="M94.5,312.6 L98.3,316.9 L90.7,316.9Z" fill="#2D56A4"/>
<rect x="153.5" y="316.1" width="4.4" height="31.2" fill="#2D56A4"/><path d="M155.7,312.6 L159.5,316.9 L151.9,316.9Z" fill="#2D56A4"/>
<rect x="218.9" y="316.1" width="4.4" height="43.6" fill="#2D56A4"/><path d="M221.1,312.6 L224.9,316.9 L217.3,316.9Z" fill="#2D56A4"/>
<rect x="350.5" y="316.1" width="4.4" height="18.7" fill="#2D56A4"/><path d="M352.7,312.6 L356.5,316.9 L348.9,316.9Z" fill="#2D56A4"/>
<rect x="411.5" y="316.1" width="4.4" height="31.6" fill="#2D56A4"/><path d="M413.7,312.6 L417.5,316.9 L409.9,316.9Z" fill="#2D56A4"/>
<rect x="477.1" y="316.1" width="4.4" height="47.4" fill="#2D56A4"/><path d="M479.3,312.6 L483.1,316.9 L475.5,316.9Z" fill="#2D56A4"/>
<text x="69.5" y="345.8" font-size="13" fill="#222">TP initiation</text>
<text x="130.8" y="363" font-size="13" fill="#222">Enrollment</text>
<text x="208.2" y="380.3" font-size="13" fill="#222">M12</text>
<text x="331.5" y="345.8" font-size="13" fill="#222">TP initiation</text>
<text x="392.5" y="363.2" font-size="13" fill="#222">Enrollment</text>
<text x="467.5" y="380.5" font-size="13" fill="#222">M12</text>
</svg>
</body></html>
